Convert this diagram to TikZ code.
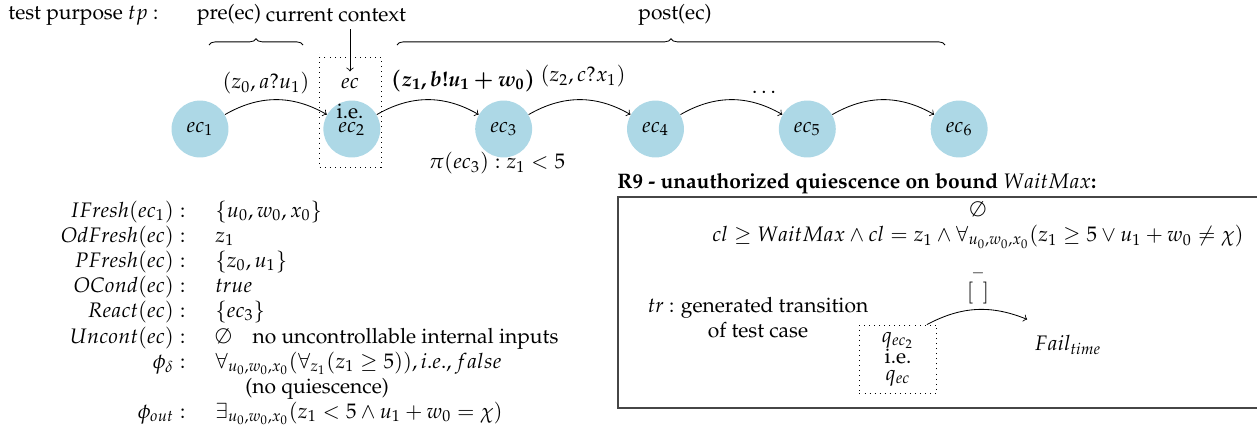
\documentclass[tikz,border=0pt]{standalone}
\usepackage[T1]{fontenc}
\usepackage{mathpazo}
\usepackage{tikz}
\usetikzlibrary{positioning,decorations.pathreplacing}
\definecolor{stateblue}{RGB}{173,216,230}
\definecolor{framegray}{RGB}{70,70,70}

\begin{document}
\begin{tikzpicture}[x=0.4762pt, y=-0.4762pt, node distance=44.8pt,
    ecstate/.style={circle, fill=stateblue, minimum size=27.1pt, inner sep=0pt},
    factlabel/.style={anchor=base east, inner sep=0pt},
    factvalue/.style={anchor=base west, inner sep=0pt},
    tpbrace/.style={decorate, decoration={brace, amplitude=3pt}}]
  \useasboundingbox (0,0) rectangle (1257,434);
  % test purpose header
  \node[anchor=west] (tp) at (1,16) {test purpose $tp$ :};
  \node (pre) at (229,15) {pre(ec)};
  \node (curctx) at (336,15) {current context};
  \node (post) at (675,15) {post(ec)};
  \draw[tpbrace] (209,45) -- (303,45);
  \draw[tpbrace] (397,45) -- (945,45);

  % states of the test purpose
  \node[ecstate] (ec1) at (200,129) {$ec_1$};
  \node[ecstate, right=of ec1] (ec2) {$ec_2$};
  \node[ecstate, right=of ec2] (ec3) {$ec_3$};
  \node[ecstate, right=of ec3] (ec4) {$ec_4$};
  \node[ecstate, right=of ec4] (ec5) {$ec_5$};
  \node[ecstate, right=of ec5] (ec6) {$ec_6$};
  \draw[->] (ec1) to[bend left=30] (ec2);
  \draw[->] (ec2) to[bend left=30] (ec3);
  \draw[->] (ec3) to[bend left=30] (ec4);
  \draw[->] (ec4) to[bend left=30] (ec5);
  \draw[->] (ec5) to[bend left=30] (ec6);
  \node (lbl12) at (266,83) {$(z_0, a?u_1)$};
  \node (lbl23) at (463,81) {\mbox{\boldmath$(z_1, b{!}u_1 + w_0)$}};
  \node (lbl34) at (583,76) {$(z_2, c?x_1)$};
  \node (lbl45) at (764,92) {$\dots$};
  \node (piec3) at (497,163) {$\pi(ec_3) : z_1 < 5$};

  % current context
  \node (ctx) at (350,84) {$ec$};
  \node[inner sep=0pt] (ie) at (350,111) {i.e.};
  \draw[dotted] (319,57) rectangle (381,167);
  \draw[->] (ctx |- curctx.south) -- (ctx);

  % facts on ec
  \node[factlabel] (lab1) at (186,217) {$IFresh(ec_1) :$};
  \node[factvalue] (val1) at (215,217) {$\{u_0, w_0, x_0\}$};
  \node[factlabel] (lab2) at (186,242) {$OdFresh(ec) :$};
  \node[factvalue] (val2) at (215,242) {$z_1$};
  \node[factlabel] (lab3) at (186,267) {$PFresh(ec) :$};
  \node[factvalue] (val3) at (215,267) {$\{z_0, u_1\}$};
  \node[factlabel] (lab4) at (186,292) {$OCond(ec) :$};
  \node[factvalue] (val4) at (215,292) {$true$};
  \node[factlabel] (lab5) at (186,317) {$React(ec) :$};
  \node[factvalue] (val5) at (215,317) {$\{ec_3\}$};
  \node[factlabel] (lab6) at (186,343) {$Uncont(ec) :$};
  \node[factvalue] (val6) at (215,343) {$\emptyset$\quad no uncontrollable internal inputs};
  \node[factlabel] (lab7) at (186,368) {$\phi_\delta :$};
  \node[factvalue] (val7) at (215,368) {$\forall_{u_0,w_0,x_0}(\forall_{z_1}(z_1 \geq 5)), i.e., false$};
  \node[factvalue] (val7b) at (245,393) {(no quiescence)};
  \node[factlabel] (lab8) at (186,418) {$\phi_{out} :$};
  \node[factvalue] (val8) at (215,418) {$\exists_{u_0,w_0,x_0}(z_1 < 5 \wedge u_1 + w_0 = \chi)$};

  % R9 generated transition
  \node[anchor=base west, inner sep=0pt] (r9) at (617,188) {\textbf{R9 - unauthorized quiescence on bound $WaitMax$:}};
  \draw[framegray, line width=0.6pt] (618,197) rectangle (1258,408);
  \node[align=center] (trguard) at (978,225) {$\emptyset$\\$cl \geq WaitMax \wedge cl = z_1 \wedge \forall_{u_0,w_0,x_0}(z_1 \geq 5 \vee u_1 + w_0 \neq \chi)$};
  \node (trreset) at (978,285) {$\stackrel{-}{[\;\,]}$};
  \node[align=center] (trtext) at (758,318) {$tr$ : generated transition\\of test case};
  \node[draw, dotted, align=center, minimum width=36.7pt, minimum height=32.4pt, inner sep=1pt] (qec) at (898,359) {$q_{ec_2}$\\[-2pt]i.e.\\[-4pt]$q_{ec}$};
  \node (fail) at (1068,345) {$Fail_{time}$};
  \draw[->] (qec.50) to[bend left=25] ([yshift=4pt]fail.north west);
\end{tikzpicture}
\end{document}
